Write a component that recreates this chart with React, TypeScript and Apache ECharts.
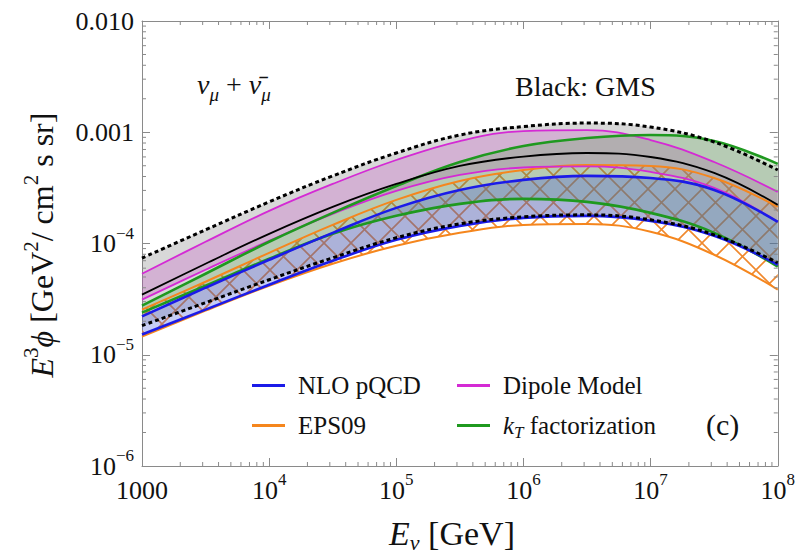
import React, { useEffect, useRef } from 'react';
import * as echarts from 'echarts';

// Neutrino energy samples (GeV), half-decade steps
const ENERGY = [1e3, 3.16e3, 1e4, 3.16e4, 1e5, 3.16e5, 1e6, 3.16e6, 1e7, 3.16e7, 1e8];

// E^3 phi [GeV^2 / cm^2 s sr] for each model
const GMS_UPPER = [7.4e-5, 1.327e-4, 2.366e-4, 4.05e-4, 6.51e-4, 9.44e-4, 1.125e-3, 1.209e-3, 1.113e-3, 8.17e-4, 4.58e-4];
const GMS_CENTRAL = [3.47e-5, 6.58e-5, 1.222e-4, 2.134e-4, 3.43e-4, 4.98e-4, 6.05e-4, 6.51e-4, 5.99e-4, 4.31e-4, 2.224e-4];
const GMS_LOWER = [1.827e-5, 2.939e-5, 4.725e-5, 7.44e-5, 1.125e-4, 1.502e-4, 1.736e-4, 1.809e-4, 1.632e-4, 1.197e-4, 6.71e-5];
const DIPOLE_UPPER = [5.35e-5, 1.036e-4, 1.965e-4, 3.43e-4, 5.63e-4, 8.34e-4, 1.025e-3, 1.046e-3, 8.51e-4, 5.4e-4, 2.909e-4];
const DIPOLE_LOWER = [3.127e-5, 5.81e-5, 1.057e-4, 1.847e-4, 2.97e-4, 4.13e-4, 4.82e-4, 4.93e-4, 4.4e-4, 3.16e-4, 1.565e-4];
const KT_UPPER = [2.762e-5, 5.35e-5, 1.036e-4, 1.885e-4, 3.29e-4, 5.4e-4, 7.52e-4, 8.87e-4, 9.44e-4, 8.34e-4, 5.19e-4];
const KT_LOWER = [2.39e-5, 4.175e-5, 7.29e-5, 1.222e-4, 1.772e-4, 2.27e-4, 2.517e-4, 2.366e-4, 1.885e-4, 1.247e-4, 6.18e-5];
const NLO_UPPER = [2.214e-5, 4.007e-5, 7.14e-5, 1.247e-4, 2.09e-4, 3.03e-4, 3.73e-4, 4.05e-4, 3.88e-4, 3.03e-4, 1.565e-4];
const NLO_LOWER = [1.518e-5, 2.543e-5, 4.26e-5, 6.99e-5, 1.079e-4, 1.441e-4, 1.7e-4, 1.772e-4, 1.598e-4, 1.172e-4, 6.44e-5];
const EPS09_UPPER = [2.543e-5, 4.534e-5, 8.25e-5, 1.47e-4, 2.465e-4, 3.65e-4, 4.58e-4, 5.08e-4, 4.98e-4, 3.88e-4, 2.134e-4];
const EPS09_LOWER = [1.456e-5, 2.491e-5, 4.175e-5, 6.58e-5, 9.54e-5, 1.247e-4, 1.47e-4, 1.5e-4, 1.273e-4, 7.92e-5, 3.845e-5];

// Axis ranges and tick labels
const X_MIN = 1e3;
const X_MAX = 1e8;
const Y_MIN = 1e-6;
const Y_MAX = 1e-2;
const X_TICK_LABELS = ['1000', '10^4', '10^5', '10^6', '10^7', '10^8'];
const Y_TICK_LABELS = ['10^−6', '10^−5', '10^−4', '0.001', '0.010'];
const MINOR_STEPS = [2, 3, 4, 5, 6, 7, 8, 9];

const SERIF = 'Liberation Serif';
const SMOOTH = 0.4;

const COLORS = {
  nlo: '#1b1be8',
  eps: '#f5861d',
  dipole: '#d42ad4',
  kt: '#1f991f',
  gms: '#000000',
};

const FILLS = {
  gms: 'rgba(105,105,105,0.26)',
  dipole: 'rgba(200,90,200,0.30)',
  kt: 'rgba(80,165,70,0.25)',
  nlo: 'rgba(70,90,220,0.30)',
};

const toRich = (label: string) => {
  const parts = label.split('^');
  return parts.length === 2 ? `{b|${parts[0]}}{s|${parts[1]}}` : `{b|${label}}`;
};

const pairs = (ys: number[]) => ENERGY.map((x, i) => [x, ys[i]]);

function decadeMinors(lo: number, hi: number) {
  const out: number[] = [];
  for (let d = lo; d < hi; d *= 10) {
    for (const m of MINOR_STEPS) out.push(d * m);
  }
  return out;
}

function makeHatch() {
  const s = 27;
  const c = document.createElement('canvas');
  c.width = s;
  c.height = s;
  const g = c.getContext('2d')!;
  g.strokeStyle = '#f0892e';
  g.lineWidth = 1.6;
  g.beginPath();
  for (const k of [-s, 0, s]) {
    g.moveTo(k - 2, -2);
    g.lineTo(k + s + 2, s + 2);
    g.moveTo(k + s + 2, -2);
    g.lineTo(k - 2, s + 2);
  }
  g.stroke();
  return c;
}

// Bezier segments built the same way the line series smooths its points,
// so the band outlines sit exactly under the drawn edge curves.
function smoothSegments(pts: number[][], smooth: number) {
  const segs: number[][] = [];
  let cpx0 = pts[0][0];
  let cpy0 = pts[0][1];
  for (let i = 1; i < pts.length; i++) {
    const [prevX, prevY] = pts[i - 1];
    const [x, y] = pts[i];
    let cpx1 = x;
    let cpy1 = y;
    let nextCpx0 = x;
    let nextCpy0 = y;
    if (i < pts.length - 1) {
      const [nextX, nextY] = pts[i + 1];
      let vx = nextX - prevX;
      let vy = nextY - prevY;
      const lenPrev = Math.hypot(x - prevX, y - prevY);
      const lenNext = Math.hypot(nextX - x, nextY - y);
      const ratio = lenNext / (lenNext + lenPrev);
      nextCpx0 = x + vx * smooth * ratio;
      nextCpy0 = y + vy * smooth * ratio;
      nextCpx0 = Math.max(Math.min(nextCpx0, Math.max(nextX, x)), Math.min(nextX, x));
      nextCpy0 = Math.max(Math.min(nextCpy0, Math.max(nextY, y)), Math.min(nextY, y));
      vx = nextCpx0 - x;
      vy = nextCpy0 - y;
      cpx1 = x - (vx * lenPrev) / lenNext;
      cpy1 = y - (vy * lenPrev) / lenNext;
      cpx1 = Math.max(Math.min(cpx1, Math.max(prevX, x)), Math.min(prevX, x));
      cpy1 = Math.max(Math.min(cpy1, Math.max(prevY, y)), Math.min(prevY, y));
      vx = x - cpx1;
      vy = y - cpy1;
      nextCpx0 = x + (vx * lenNext) / lenPrev;
      nextCpy0 = y + (vy * lenNext) / lenPrev;
    }
    segs.push([cpx0, cpy0, cpx1, cpy1, x, y]);
    cpx0 = nextCpx0;
    cpy0 = nextCpy0;
  }
  return segs;
}

const f = (n: number) => n.toFixed(2);

const bandSeries = (name: string, lo: number[], hi: number[], fill: any) => ({
  type: 'custom',
  name,
  silent: true,
  z: 2,
  data: ENERGY.map((x, i) => [x, lo[i], hi[i]]),
  encode: { x: 0, y: [1, 2] },
  renderItem: (params: any, api: any) => {
    if (params.dataIndex !== 0) return null;
    const up = ENERGY.map((x, i) => api.coord([x, hi[i]]));
    const dn = ENERGY.map((x, i) => api.coord([x, lo[i]]));
    const su = smoothSegments(up, SMOOTH);
    const sd = smoothSegments(dn, SMOOTH);
    let d = `M${f(up[0][0])} ${f(up[0][1])}`;
    for (const s of su) d += ` C${f(s[0])} ${f(s[1])} ${f(s[2])} ${f(s[3])} ${f(s[4])} ${f(s[5])}`;
    const last = dn[dn.length - 1];
    d += ` L${f(last[0])} ${f(last[1])}`;
    for (let j = sd.length - 1; j >= 0; j--) {
      const s = sd[j];
      const p = dn[j];
      d += ` C${f(s[2])} ${f(s[3])} ${f(s[0])} ${f(s[1])} ${f(p[0])} ${f(p[1])}`;
    }
    d += ' Z';
    return { type: 'path', shape: { pathData: d }, style: { fill, stroke: 'none' } };
  },
});

const curve = (name: string, ys: number[], color: string, width: number, extra: any = {}) => ({
  type: 'line',
  name,
  data: pairs(ys),
  smooth: SMOOTH,
  symbol: 'none',
  silent: true,
  itemStyle: { color },
  lineStyle: { color, width, ...extra },
  z: 3,
});

const minorTickSeries = (axis: 'x' | 'y') => ({
  type: 'custom',
  silent: true,
  z: 5,
  data:
    axis === 'x'
      ? decadeMinors(X_MIN, X_MAX).map((v) => [v, Y_MIN])
      : decadeMinors(Y_MIN, Y_MAX).map((v) => [X_MIN, v]),
  renderItem: (_p: any, api: any) => {
    const style = { stroke: '#8a8a8a', lineWidth: 1 };
    if (axis === 'x') {
      const x = api.value(0);
      const b = api.coord([x, Y_MIN]);
      const t = api.coord([x, Y_MAX]);
      return {
        type: 'group',
        children: [
          { type: 'line', shape: { x1: b[0], y1: b[1], x2: b[0], y2: b[1] - 4 }, style },
          { type: 'line', shape: { x1: t[0], y1: t[1], x2: t[0], y2: t[1] + 4 }, style },
        ],
      };
    }
    const y = api.value(1);
    const l = api.coord([X_MIN, y]);
    const r = api.coord([X_MAX, y]);
    return {
      type: 'group',
      children: [
        { type: 'line', shape: { x1: l[0], y1: l[1], x2: l[0] + 4, y2: l[1] }, style },
        { type: 'line', shape: { x1: r[0], y1: r[1], x2: r[0] - 4, y2: r[1] }, style },
      ],
    };
  },
});

const tickRich = {
  b: { fontFamily: SERIF, fontSize: 26, lineHeight: 38, color: '#111' },
  s: { fontFamily: SERIF, fontSize: 17, lineHeight: 12, verticalAlign: 'top', color: '#111' },
};

const frameAxis = (extra: any) => ({
  type: 'log',
  logBase: 10,
  axisLine: { show: true, lineStyle: { color: '#8a8a8a', width: 1 } },
  axisTick: { show: true, inside: true, length: 8, lineStyle: { color: '#8a8a8a' } },
  splitLine: { show: false },
  minorTick: { show: false },
  ...extra,
});

const legendText = (name: string) =>
  name === 'kT factorization' ? '{i|k}{sub|T}{r| factorization}' : `{r|${name}}`;

const legendRich = {
  r: { fontFamily: SERIF, fontSize: 25, lineHeight: 30, color: '#111' },
  i: { fontFamily: SERIF, fontSize: 25, lineHeight: 30, fontStyle: 'italic', color: '#111' },
  sub: { fontFamily: SERIF, fontSize: 17, lineHeight: 12, fontStyle: 'italic', verticalAlign: 'bottom', color: '#111' },
};

const legendBlock = (names: string[], left: number) => ({
  data: names.map((name) => ({ name, icon: 'rect' })),
  orient: 'vertical',
  left,
  top: 373,
  itemWidth: 33,
  itemHeight: 3,
  itemGap: 15,
  padding: 0,
  selectedMode: false,
  formatter: legendText,
  textStyle: { padding: [0, 0, 0, 8], rich: legendRich },
});

export default function App() {
  const ref = useRef<HTMLDivElement>(null);

  useEffect(() => {
    if (!ref.current) return;
    const chart = echarts.init(ref.current, undefined, { renderer: 'svg' });
    const hatch = makeHatch();

    const option: any = {
      animation: false,
      backgroundColor: '#ffffff',
      grid: { left: 142, right: 20, top: 21, bottom: 87 },
      xAxis: [
        frameAxis({
          position: 'bottom',
          min: X_MIN,
          max: X_MAX,
          splitNumber: 5,
          axisLabel: {
            show: true,
            margin: 5,
            showMinLabel: true,
            showMaxLabel: true,
            formatter: (v: number) => toRich(X_TICK_LABELS[Math.round(Math.log10(v)) - 3] ?? ''),
            rich: tickRich,
          },
        }),
        frameAxis({ position: 'top', min: X_MIN, max: X_MAX, splitNumber: 5, axisLabel: { show: false } }),
      ],
      yAxis: [
        frameAxis({
          position: 'left',
          min: Y_MIN,
          max: Y_MAX,
          splitNumber: 4,
          axisLabel: {
            show: true,
            margin: 8,
            showMinLabel: true,
            showMaxLabel: true,
            formatter: (v: number) => toRich(Y_TICK_LABELS[Math.round(Math.log10(v)) + 6] ?? ''),
            rich: tickRich,
          },
        }),
        frameAxis({ position: 'right', min: Y_MIN, max: Y_MAX, splitNumber: 4, axisLabel: { show: false } }),
      ],
      legend: [
        legendBlock(['NLO pQCD', 'EPS09'], 252),
        legendBlock(['Dipole Model', 'kT factorization'], 457),
      ],
      graphic: [
        {
          type: 'text',
          left: 197,
          top: 70,
          style: {
            text: '{i|ν}{sub|μ}{r| + }{i|ν̄}{sub|μ}',
            rich: {
              r: { fontFamily: SERIF, fontSize: 28, lineHeight: 40, fill: '#111' },
              i: { fontFamily: SERIF, fontSize: 28, lineHeight: 40, fontStyle: 'italic', fill: '#111' },
              sub: { fontFamily: SERIF, fontSize: 19, lineHeight: 14, fontStyle: 'italic', verticalAlign: 'bottom', fill: '#111' },
            },
          },
        },
        {
          type: 'text',
          left: 515,
          top: 72,
          style: { text: 'Black: GMS', font: `28px "${SERIF}"`, fill: '#111' },
        },
        {
          type: 'text',
          left: 706,
          top: 409,
          style: { text: '(c)', font: `30px "${SERIF}"`, fill: '#111' },
        },
        {
          type: 'text',
          x: 42,
          y: 245,
          rotation: Math.PI / 2,
          style: {
            text: '{i|E}{s|3}{i|ϕ}{r| [GeV}{s|2}{r|/ cm}{s|2}{r| s sr]}',
            align: 'center',
            verticalAlign: 'middle',
            rich: {
              r: { fontFamily: SERIF, fontSize: 32, lineHeight: 44, fill: '#111' },
              i: { fontFamily: SERIF, fontSize: 32, lineHeight: 44, fontStyle: 'italic', fill: '#111' },
              s: { fontFamily: SERIF, fontSize: 21, lineHeight: 16, verticalAlign: 'top', fill: '#111' },
            },
          },
        },
        {
          type: 'text',
          x: 452,
          y: 533,
          style: {
            text: '{i|E}{sub|ν}{r| [GeV]}',
            align: 'center',
            verticalAlign: 'middle',
            rich: {
              r: { fontFamily: SERIF, fontSize: 34, lineHeight: 40, fill: '#111' },
              i: { fontFamily: SERIF, fontSize: 34, lineHeight: 40, fontStyle: 'italic', fill: '#111' },
              sub: { fontFamily: SERIF, fontSize: 22, lineHeight: 14, fontStyle: 'italic', verticalAlign: 'bottom', fill: '#111' },
            },
          },
        },
      ],
      series: [
        // EPS09 band: cross-hatched, underneath the translucent fills
        bandSeries('EPS09 band', EPS09_LOWER, EPS09_UPPER, { image: hatch, repeat: 'repeat' }),
        curve('EPS09', EPS09_UPPER, COLORS.eps, 2),
        curve('EPS09', EPS09_LOWER, COLORS.eps, 2),
        // translucent uncertainty bands
        bandSeries('GMS band', GMS_LOWER, GMS_UPPER, FILLS.gms),
        bandSeries('Dipole band', DIPOLE_LOWER, DIPOLE_UPPER, FILLS.dipole),
        bandSeries('kT band', KT_LOWER, KT_UPPER, FILLS.kt),
        bandSeries('NLO band', NLO_LOWER, NLO_UPPER, FILLS.nlo),
        // band edges
        curve('Dipole Model', DIPOLE_UPPER, COLORS.dipole, 1.8),
        curve('Dipole Model', DIPOLE_LOWER, COLORS.dipole, 1.8),
        curve('kT factorization', KT_UPPER, COLORS.kt, 2.6),
        curve('kT factorization', KT_LOWER, COLORS.kt, 2.6),
        curve('NLO pQCD', NLO_UPPER, COLORS.nlo, 2.6),
        curve('NLO pQCD', NLO_LOWER, COLORS.nlo, 2.6),
        curve('GMS', GMS_CENTRAL, COLORS.gms, 1.8),
        curve('GMS bounds', GMS_UPPER, COLORS.gms, 3, { type: [4, 3] }),
        curve('GMS bounds', GMS_LOWER, COLORS.gms, 3, { type: [4, 3] }),
        minorTickSeries('x'),
        minorTickSeries('y'),
      ],
    };

    chart.setOption(option);
    return () => chart.dispose();
  }, []);

  return (
    <div
      ref={ref}
      style={{ position: 'fixed', left: 0, top: 0, width: 798, height: 553, background: '#fff' }}
    />
  );
}
